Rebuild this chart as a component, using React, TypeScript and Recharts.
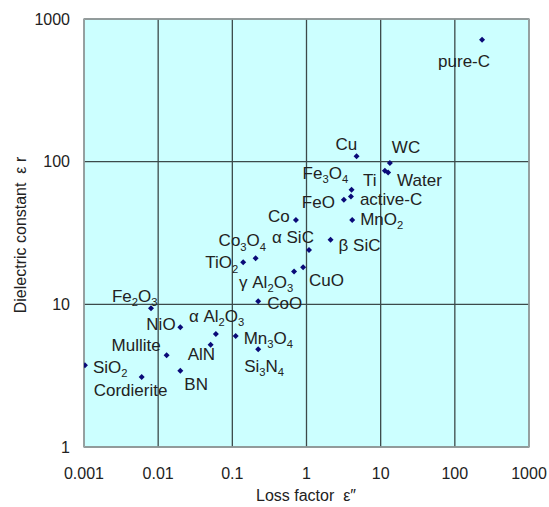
import React from "react";
import {
  ScatterChart,
  Scatter,
  XAxis,
  YAxis,
  CartesianGrid,
  ReferenceArea,
  Label,
} from "recharts";

const NAMES = [
  "pure-C", "Cu", "WC", "Ti", "Water", "Fe3O4", "FeO", "active-C", "MnO2",
  "Co", "α SiC", "β SiC", "Co3O4", "TiO2", "γ Al2O3", "CuO", "CoO", "Mn3O4",
  "Si3N4", "α Al2O3", "AlN", "NiO", "Fe2O3", "Mullite", "BN", "Cordierite", "SiO2",
];
const LOSS = [
  233, 4.73, 13.3, 11.4, 12.6, 4.05, 3.19, 3.97, 4.13,
  0.72, 1.08, 2.11, 0.206, 0.14, 0.68, 0.9, 0.223, 0.111,
  0.223, 0.06, 0.051, 0.0199, 0.008, 0.013, 0.0199, 0.006, 0.00103,
];
const EPS = [
  715, 109, 98, 86.5, 84, 63.6, 54, 57, 39,
  39, 24, 28.4, 21, 19.7, 17, 18.2, 10.5, 6.0,
  4.85, 6.2, 5.2, 6.9, 9.4, 4.4, 3.43, 3.1, 3.74,
];
const X_TICKS = [0.001, 0.01, 0.1, 1, 10, 100, 1000];
const Y_TICKS = [1, 10, 100, 1000];

// label offsets from the dot: [left edge dx, vertical centre dy]
const LABEL_POS: Record<string, [number, number]> = {
  "pure-C": [-44, 21],
  Cu: [-21, -12],
  WC: [2, -16],
  Ti: [-22, 9],
  Water: [9, 7],
  Fe3O4: [-49, -17],
  FeO: [-42, 2],
  "active-C": [9, 2],
  MnO2: [8, -1],
  Co: [-28, -4],
  "α SiC": [-37, -13],
  "β SiC": [8, 5],
  Co3O4: [-37, -18],
  TiO2: [-38, 0],
  "γ Al2O3": [-55, 10],
  CuO: [6, 13],
  CoO: [9, 2],
  Mn3O4: [8, 2],
  Si3N4: [-14, 17],
  "α Al2O3": [-27, -18],
  AlN: [-23, 9],
  NiO: [-34, -3],
  Fe2O3: [-39, -12],
  Mullite: [-55, -10],
  BN: [4, 13],
  Cordierite: [-48, 13],
  SiO2: [8, 2],
};

const data = NAMES.map((name, i) => ({ name, loss: LOSS[i], eps: EPS[i] }));

const FONT = "'Liberation Sans', Arial, sans-serif";
const TEXT = "#222";

function Formula({ x, y, text, size }: { x: number; y: number; text: string; size: number }) {
  const parts = text.split(/(\d+)/).filter((p) => p.length > 0);
  const shift = size * 0.24;
  let down = false;
  return (
    <text x={x} y={y} fontSize={size} fontFamily={FONT} fill={TEXT}>
      {parts.map((p, i) => {
        const isSub = /^\d+$/.test(p);
        let dy = 0;
        if (isSub && !down) { dy = shift; down = true; }
        else if (!isSub && down) { dy = -shift; down = false; }
        return (
          <tspan key={i} dy={dy} fontSize={isSub ? size * 0.66 : size}>
            {p}
          </tspan>
        );
      })}
    </text>
  );
}

function PointShape(props: any) {
  const { cx, cy, payload } = props;
  const r = 3;
  const off = LABEL_POS[payload.name] || [6, 0];
  const size = 17;
  return (
    <g>
      <path
        d={`M${cx},${cy - r}L${cx + r},${cy}L${cx},${cy + r}L${cx - r},${cy}Z`}
        fill="#0a0a78"
      />
      <Formula x={cx + off[0]} y={cy + off[1] + size * 0.36} text={payload.name} size={size} />
    </g>
  );
}

export default function App() {
  return (
    <div style={{ position: "absolute", left: 0, top: 0, width: 549, height: 507, background: "#fff" }}>
      <ScatterChart width={549} height={507} margin={{ top: 19, right: 20, left: 0, bottom: 0 }}>
        <CartesianGrid stroke="#3c4a4a" strokeWidth={1.3} fill="#ccffff" fillOpacity={1} />
        <XAxis
          type="number"
          dataKey="loss"
          scale="log"
          domain={[0.001, 1000]}
          ticks={X_TICKS}
          allowDataOverflow
          axisLine={false}
          tickLine={false}
          tickSize={0}
          tickMargin={21}
          height={60}
          tick={{ fontSize: 16, fill: TEXT, fontFamily: FONT }}
        >
          <Label
            content={() => (
              <text x={306} y={495} textAnchor="middle" dominantBaseline="central" fontSize={16} fontFamily={FONT} fill={TEXT}>
                {"Loss factor\u00a0\u00a0ε″"}
              </text>
            )}
          />
        </XAxis>
        <YAxis
          type="number"
          dataKey="eps"
          scale="log"
          domain={[1, 1000]}
          ticks={Y_TICKS}
          allowDataOverflow
          axisLine={false}
          tickLine={false}
          tickSize={0}
          tickMargin={14}
          width={84}
          tick={{ fontSize: 16, fill: TEXT, fontFamily: FONT }}
        >
          <Label
            content={() => (
              <text
                x={20}
                y={235}
                transform="rotate(-90 20 235)"
                textAnchor="middle"
                dominantBaseline="central"
                fontSize={16}
                fontFamily={FONT}
                fill={TEXT}
              >
                {"Dielectric constant\u00a0\u00a0ε r"}
              </text>
            )}
          />
        </YAxis>
        <ReferenceArea x1={0.001} x2={1000} y1={1} y2={1000} fill="none" stroke="#a0a8a8" strokeWidth={1.5} />
        <Scatter data={data} shape={PointShape} isAnimationActive={false} />
      </ScatterChart>
    </div>
  );
}
